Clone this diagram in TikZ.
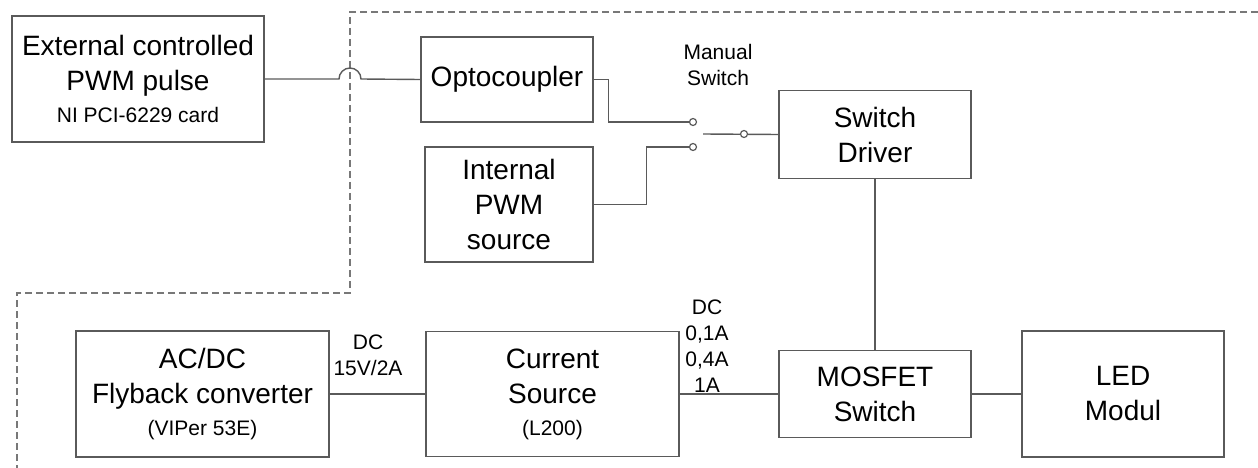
\documentclass[tikz,border=0pt]{standalone}
\usepackage{fontspec}
\setmainfont{Liberation Sans}
\usepackage{tikz}

\newcommand\boxfont{\fontsize{28}{35}\selectfont}
\newcommand\notefont{\fontsize{21}{26}\selectfont}
\definecolor{linegray}{HTML}{5A5A5A}
\definecolor{dashgray}{HTML}{787878}

\begin{document}
\begin{tikzpicture}
[x=1pt,y=-1pt]
\tikzset{blk/.style={draw=linegray,line width=1.5pt,align=center,font=\boxfont,inner sep=0pt}}
\tikzset{term/.style={circle,draw=linegray,line width=1.2pt,fill=white,inner sep=0pt,minimum size=7pt}}
\tikzset{wire/.style={draw=linegray,line width=1.4pt}}
\tikzset{note/.style={align=center,font=\notefont,inner sep=0pt}}
\useasboundingbox (0,0) rectangle (1258,468);
\draw [dashgray,line width=1.8pt,dash pattern=on 7pt off 4pt] (1258,12) -- (350,12) -- (350,293) -- (17,293) -- (17,468);
\node [blk,minimum width=252,minimum height=126] (ext) at (138,79) {External controlled\\PWM pulse\\[-3pt]{\notefont NI PCI-6229 card}};
\node [blk,minimum width=172,minimum height=85] (opto) at (507,79.5) {Optocoupler};
\node [blk,minimum width=168,minimum height=115] (ipwm) at (509,204.5) {Internal\\PWM\\source};
\node [blk,minimum width=192,minimum height=88] (drv) at (875,134.5) {Switch\\Driver};
\node [blk,minimum width=253,minimum height=126] (acdc) at (202.5,394) {AC/DC\\Flyback converter\\[-3pt]{\notefont (VIPer 53E)}};
\node [blk,minimum width=253,minimum height=125] (csrc) at (552.5,394) {Current\\Source\\[-3pt]{\notefont (L200)}};
\node [blk,minimum width=192,minimum height=87] (mos) at (875,394) {MOSFET\\Switch};
\node [blk,minimum width=202,minimum height=126] (led) at (1123,394) {LED\\Modul};
\node [note] (man) at (718,65) {Manual\\Switch};
\node [note] (dc1) at (368,355) {DC\\15V/2A};
\node [note] (dc2) at (707,346) {DC\\0,1A\\0,4A\\1A};
% manual switch
\coordinate (pole) at (703,134);
\draw [wire] (ext.east) -- (339,79) arc (180:360:11) -- (opto.west);
\draw [wire] (opto.east) -- ++(15,0) |- (693,122);
\draw [wire] (ipwm.east) -- ++(53,0) |- (693,147);
\draw [wire] (pole) -- (drv.west);
\node [term] (ta) at (693,122) {};
\node [term] (tb) at (693,147) {};
\node [term] (tc) at (744,134) {};

\foreach \from/\to in {drv/mos,acdc/csrc,csrc/mos,mos/led}
	\draw [wire] (\from) -- (\to);
\end{tikzpicture}
\end{document}
